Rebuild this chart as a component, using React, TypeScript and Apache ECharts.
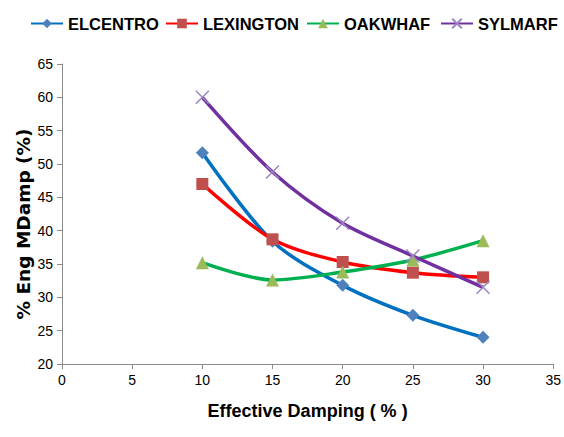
import React, { useEffect, useRef } from "react";
import * as echarts from "echarts";

const dampingX = [10, 15, 20, 25, 30];
const elcentro = [51.7, 38.4, 31.8, 27.3, 24.0];
const lexington = [47.0, 38.7, 35.3, 33.7, 33.0];
const oakwhaf = [35.2, 32.6, 33.8, 35.6, 38.5];
const sylmarf = [60.0, 48.8, 41.1, 36.2, 31.5];
const seriesNames = ["ELCENTRO", "LEXINGTON", "OAKWHAF", "SYLMARF"];
const legendLefts = [25, 160, 301, 435];

const FONT = "'Liberation Sans', Arial, sans-serif";
const crossPath = "path://M0,0L10,10M10,0L0,10";

function pairs(vals: number[]) {
  return dampingX.map((x, i) => [x, vals[i]]);
}

export default function App() {
  const ref = useRef<HTMLDivElement>(null);
  useEffect(() => {
    document.body.style.margin = "0";
    const chart = echarts.init(ref.current!, null, { renderer: "svg" });
    const mk = (
      name: string,
      vals: number[],
      lineColor: string,
      markColor: string,
      symbol: string,
      size: number,
      extra: any = {}
    ) => ({
      name,
      type: "line",
      data: pairs(vals),
      smooth: 0.3,
      symbol,
      symbolSize: size,
      lineStyle: { color: lineColor, width: 3.5 },
      itemStyle: { color: markColor, ...extra },
    });
    chart.setOption({
      animation: false,
      backgroundColor: "#fff",
      grid: { left: 62, right: 8, top: 64, bottom: 73 },
      legend: seriesNames.map((n, i) => ({
        top: 10,
        left: legendLefts[i],
        itemWidth: 32,
        itemHeight: 12,
        itemGap: 0,
        textStyle: { fontFamily: FONT, fontWeight: "bold", fontSize: 16.5, color: "#000" },
        data: [n],
      })),
      xAxis: {
        type: "value",
        min: 0,
        max: 35,
        interval: 5,
        name: "Effective Damping ( % )",
        nameLocation: "middle",
        nameGap: 38,
        nameMoveOverlap: false,
        nameTextStyle: { fontFamily: FONT, fontWeight: "bold", fontSize: 18, color: "#000" },
        axisLine: { show: true, lineStyle: { color: "#8c8c8c", width: 1 } },
        axisTick: { show: true, length: 5, lineStyle: { color: "#8c8c8c" } },
        axisLabel: { fontFamily: FONT, fontSize: 14, color: "#000", margin: 9 },
        splitLine: { show: false },
      },
      yAxis: {
        type: "value",
        min: 20,
        max: 65,
        interval: 5,
        name: "% Eng MDamp (%)",
        nameLocation: "middle",
        nameGap: 29,
        nameMoveOverlap: false,
        nameTextStyle: {
          fontFamily: "'DejaVu Sans', Verdana, sans-serif",
          fontWeight: "bold",
          fontSize: 18.5,
          color: "#000",
          padding: [0, 20, 0, 0],
        },
        axisLine: { show: true, lineStyle: { color: "#8c8c8c", width: 1 } },
        axisTick: { show: true, length: 5, lineStyle: { color: "#8c8c8c" } },
        axisLabel: { fontFamily: FONT, fontSize: 14, color: "#000", margin: 9 },
        splitLine: { show: false },
      },
      series: [
        mk("ELCENTRO", elcentro, "#0070C0", "#4F81BD", "diamond", 13),
        mk("LEXINGTON", lexington, "#FF0000", "#C0504D", "rect", 12),
        mk("OAKWHAF", oakwhaf, "#00B050", "#9BBB59", "triangle", 13),
        mk("SYLMARF", sylmarf, "#7030A0", "#8064A2", crossPath, 13, {
          borderColor: "#9B86BF",
          borderWidth: 1.5,
        }),
      ],
    });
    return () => chart.dispose();
  }, []);
  return <div ref={ref} style={{ width: 564, height: 437 }} />;
}
